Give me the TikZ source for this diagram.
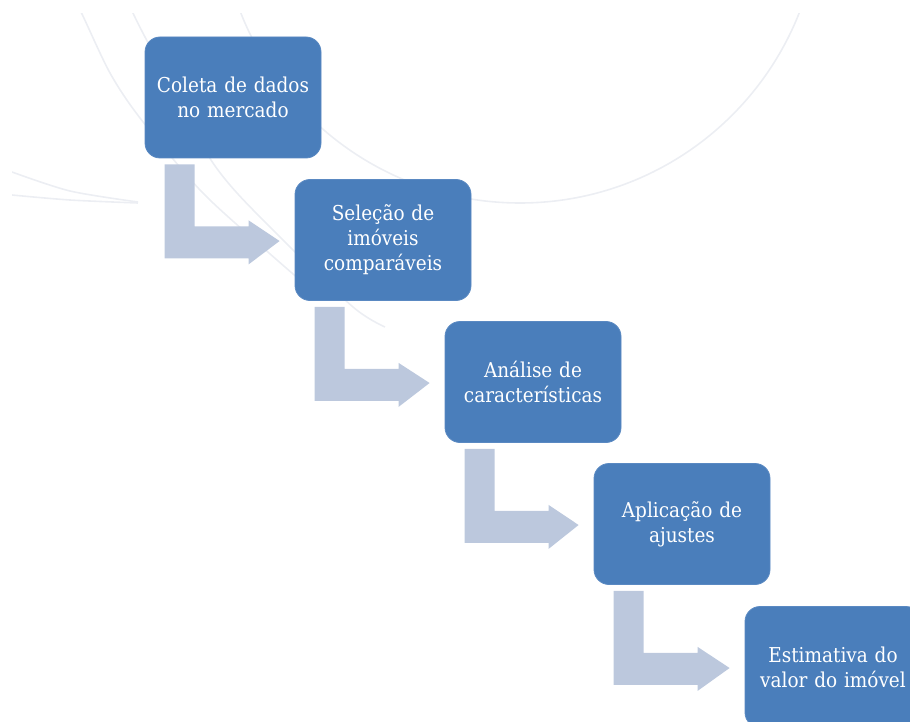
\documentclass[tikz,border=0pt]{standalone}
\usepackage{fontspec}
\setmainfont{DejaVu Serif}[FakeStretch=0.9]
\usetikzlibrary{calc}
\definecolor{boxblue}{HTML}{4A7EBB}
\definecolor{boxedge}{HTML}{5A89C2}
\definecolor{arrowgray}{HTML}{BCC8DD}
\definecolor{bgline}{HTML}{ECEEF3}
\tikzset{
  stepbox/.style={rectangle, rounded corners=15pt, fill=boxblue, draw=boxedge,
    line width=0.8pt, minimum width=176pt, minimum height=121pt,
    text width=168pt, align=center, text=white, inner sep=0pt,
    font=\fontsize{20.5}{25}\selectfont},
  bentarrow/.style={fill=arrowgray, draw=none},
  bgarc/.style={draw=bgline, line width=1.6pt}
}
\begin{document}
\begin{tikzpicture}[x=1pt,y=-1pt]
\useasboundingbox (0,0) rectangle (910,722);
\clip (0,0) rectangle (910,722);
% faint background arcs
\begin{scope}
  \clip (12,14) rectangle (910,722);
  \draw[bgarc] (520,-97) circle[radius=300];
  \draw[bgarc] plot[smooth] coordinates {(74,0) (82,14) (110,73) (140,118) (200,190) (260,245) (300,280)};
  \draw[bgarc] plot[smooth] coordinates {(127,0) (145,37) (213,163) (280,237) (353,307) (385,327)};
  \draw[bgarc] plot[smooth] coordinates {(12,172) (70,191) (138,202)};
  \draw[bgarc] plot[smooth] coordinates {(12,195) (70,200) (138,203)};
\end{scope}
% steps
\node[stepbox] (b1) at (233,97.5) {Coleta de dados\\no mercado};
\node[stepbox] (b2) at (383,240) {Seleção de\\imóveis\\comparáveis};
\node[stepbox] (b3) at (533,382) {Análise de\\características};
\node[stepbox] (b4) at (682,524) {Aplicação de\\ajustes};
\node[stepbox] (b5) at (833,667) {Estimativa do\\valor do imóvel};
% bent arrows
\foreach \a/\b in {b1/b2,b2/b3,b3/b4,b4/b5}{
  \fill[bentarrow]
    ($(\a.south west)+(20,6)$) -- ($(\a.south west)+(50,6)$)
    -- ($(\a.south west)+(50,68)$) -- ($(\a.south west)+(104,68)$)
    -- ($(\a.south west)+(104,62)$) -- ($(\b.west)+(-15,1)$)
    -- ($(\a.south west)+(104,106)$) -- ($(\a.south west)+(104,100)$)
    -- ($(\a.south west)+(20,100)$) -- cycle;
}
\end{tikzpicture}
\end{document}
